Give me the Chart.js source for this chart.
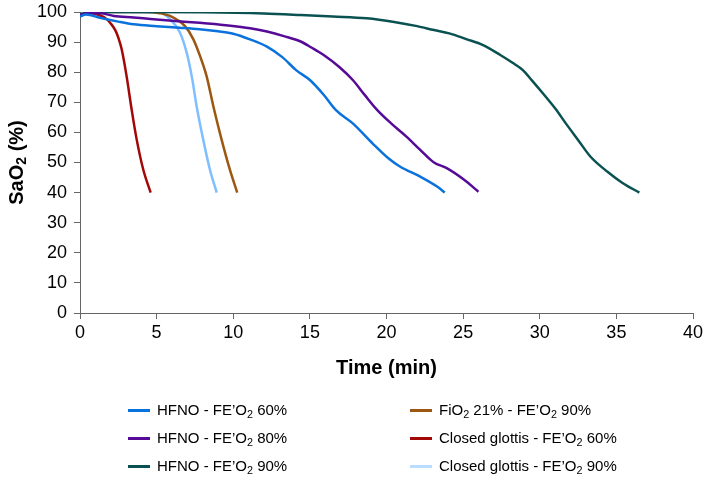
<!DOCTYPE html>
<html>
<head>
<meta charset="utf-8">
<script src="https://cdn.jsdelivr.net/npm/chart.js@4/dist/chart.umd.min.js"></script>
<style>
  html, body { margin: 0; padding: 0; background: #fff; }
  #wrap { position: relative; width: 706px; height: 490px; font-family: "Liberation Sans", Arial, sans-serif; }
  #c { position: absolute; left: 0; top: 0; }
  .leg { position: absolute; font-size: 15px; color: #000; white-space: nowrap; line-height: 20px; }
  .leg .sw { display: inline-block; width: 22px; height: 3px; vertical-align: middle; margin-right: 7px; position: relative; top: -1px; }
  .leg sub { font-size: 0.72em; vertical-align: -0.3em; line-height: 0; }
</style>
</head>
<body>
<div id="wrap">
  <canvas id="c" width="706" height="490"></canvas>
  <div id="legend"></div>
</div>
<script>
// ---- data ----
const xTicks = [0, 5, 10, 15, 20, 25, 30, 35, 40];
const yTicks = [0, 10, 20, 30, 40, 50, 60, 70, 80, 90, 100];

const hfno60Time = [0, 0.4, 1.3, 2.5, 3.5, 5, 6.5, 7.8, 9, 10, 11.1, 12.2, 13.2, 14.1, 15, 15.9, 16.7, 17.8, 19.1, 20.1, 20.9, 22.2, 23.3, 23.8];
const hfno60Sat  = [98.5, 99.2, 98.1, 96.8, 95.9, 95.3, 94.8, 94.3, 93.6, 92.8, 90.9, 88.5, 85, 80.7, 77.4, 72.5, 67.4, 63, 56.3, 51.5, 48.6, 45.3, 42, 40];

const hfno80Time = [0, 0.5, 1.3, 2.2, 3.5, 4.6, 6, 7.8, 9.5, 11.1, 12.2, 13.3, 14.4, 15.1, 15.9, 16.9, 17.8, 18.6, 19.4, 20.3, 21.3, 22.2, 23.1, 23.9, 25, 26];
const hfno80Sat  = [99, 99.6, 99.6, 98.7, 98.2, 97.7, 97.1, 96.4, 95.6, 94.6, 93.5, 92, 90.2, 88.2, 85.7, 81.8, 77.4, 72.3, 67.4, 63, 58.6, 54.2, 50, 48.2, 44.5, 40.3];

const hfno90Time = [0, 0.5, 1.5, 4, 8, 12, 14.4, 16.5, 18.7, 20.5, 22, 23.1, 24.1, 25.2, 26.3, 27.4, 28.2, 28.9, 29.5, 30.2, 31, 31.7, 32.5, 33.3, 34.4, 35.4, 36.5];
const hfno90Sat  = [99.3, 99.8, 100, 100, 99.9, 99.5, 99, 98.5, 97.9, 96.7, 95.3, 94, 92.9, 91, 89, 85.8, 83.2, 80.7, 77.2, 73, 68, 63, 57.5, 52, 47, 43.2, 40];

const fio21Time = [0, 0.4, 1.1, 3, 4.35, 5.2, 5.87, 6.85, 7.39, 7.83, 8.26, 8.7, 9.24, 9.78, 10.26];
const fio21Sat  = [98.8, 99.6, 100, 100, 100, 99.6, 98.7, 95.3, 91, 85.4, 78.7, 68.7, 57.6, 47.6, 40];

const cg60Time = [0, 0.3, 0.7, 1.2, 1.7, 2.0, 2.3, 2.5, 2.72, 3.04, 3.37, 3.7, 4.13, 4.61];
const cg60Sat  = [98.5, 99.3, 99.7, 99.1, 97.8, 96.2, 94, 91.5, 87.6, 78.7, 67.6, 57.6, 47.6, 40];

const cg90Time = [0, 0.4, 1.1, 3, 5.2, 5.87, 6.52, 6.96, 7.29, 7.61, 8.04, 8.48, 8.92];
const cg90Sat  = [98.8, 99.6, 100, 100, 99.8, 97.6, 93.2, 86.5, 78.7, 68.7, 57.6, 47.6, 40];

const seriesNames = ["HFNO - FE'O2 60%", "HFNO - FE'O2 80%", "HFNO - FE'O2 90%", "FiO2 21% - FE'O2 90%", "Closed glottis - FE'O2 60%", "Closed glottis - FE'O2 90%"];
const seriesLegendHtml = ["HFNO - FE’O<sub>2</sub> 60%", "HFNO - FE’O<sub>2</sub> 80%", "HFNO - FE’O<sub>2</sub> 90%", "FiO<sub>2</sub> 21% - FE’O<sub>2</sub> 90%", "Closed glottis - FE’O<sub>2</sub> 60%", "Closed glottis - FE’O<sub>2</sub> 90%"];
const seriesColors = ["#0a72dc", "#560a98", "#0a5252", "#9c5812", "#a30808", "#7fbfff"];
const seriesData = [[hfno60Time, hfno60Sat], [hfno80Time, hfno80Sat], [hfno90Time, hfno90Sat], [fio21Time, fio21Sat], [cg60Time, cg60Sat], [cg90Time, cg90Sat]];

// ---- build ----
const FONT = "'Liberation Sans', Arial, sans-serif";
const datasets = seriesData.map((s, i) => ({
  label: seriesNames[i],
  data: s[0].map((t, k) => ({ x: t, y: s[1][k] })),
  borderColor: seriesColors[i],
  backgroundColor: seriesColors[i],
  borderWidth: 2.5,
  pointRadius: 0,
  fill: false,
  cubicInterpolationMode: 'monotone'
}));

const yTitlePlugin = {
  id: 'yTitle',
  afterDraw(chart) {
    const ctx = chart.ctx;
    const ca = chart.chartArea;
    ctx.save();
    ctx.translate(17, (ca.top + ca.bottom) / 2);
    ctx.rotate(-Math.PI / 2);
    ctx.fillStyle = '#000';
    ctx.textBaseline = 'middle';
    const big = "bold 20px " + FONT, small = "bold 14px " + FONT;
    ctx.font = big; const w1 = ctx.measureText('SaO').width;
    ctx.font = small; const w2 = ctx.measureText('2').width;
    ctx.font = big; const w3 = ctx.measureText(' (%)').width;
    let x = -(w1 + w2 + w3) / 2;
    ctx.font = big; ctx.fillText('SaO', x, 0); x += w1;
    ctx.font = small; ctx.fillText('2', x, 5); x += w2;
    ctx.font = big; ctx.fillText(' (%)', x, 0);
    ctx.restore();
  }
};

new Chart(document.getElementById('c'), {
  type: 'line',
  data: { datasets },
  plugins: [yTitlePlugin],
  options: {
    responsive: false,
    animation: false,
    layout: { padding: { top: 12, right: 13, left: 0, bottom: 100 } },
    plugins: { legend: { display: false }, tooltip: { enabled: false } },
    scales: {
      x: {
        type: 'linear', min: 0, max: 40,
        afterBuildTicks: (s) => { s.ticks = xTicks.map(v => ({ value: v })); },
        afterFit: (s) => { s.height = 77; s.paddingLeft = 0; s.paddingRight = 0; },
        ticks: { color: '#000', font: { size: 18, family: FONT }, padding: 3, maxRotation: 0 },
        grid: { display: true, drawOnChartArea: false, drawTicks: true, tickLength: 6, color: '#666' },
        border: { color: '#666', width: 1 },
        title: { display: true, text: 'Time (min)', color: '#000', font: { size: 20, weight: 'bold', family: FONT }, padding: { top: 4, bottom: 10 } }
      },
      y: {
        type: 'linear', min: 0, max: 100,
        afterBuildTicks: (s) => { s.ticks = yTicks.map(v => ({ value: v })); },
        afterFit: (s) => { s.width = 80; s.paddingTop = 0; s.paddingBottom = 0; },
        ticks: { color: '#000', font: { size: 18, family: FONT }, padding: 7 },
        grid: { display: true, drawOnChartArea: false, drawTicks: true, tickLength: 6, color: '#666' },
        border: { color: '#666', width: 1 }
      }
    }
  }
});

// ---- legend (two columns, column-major) ----
const legend = document.getElementById('legend');
const colX = [128, 410];
const rowY = [400, 428, 456];
seriesLegendHtml.forEach((html, i) => {
  const d = document.createElement('div');
  d.className = 'leg';
  d.style.left = colX[Math.floor(i / 3)] + 'px';
  d.style.top = rowY[i % 3] + 'px';
  d.innerHTML = '<span class="sw" style="background:' + seriesColors[i] + (i === 5 ? ';opacity:0.55' : '') + '"></span>' + html;
  legend.appendChild(d);
});
</script>
</body>
</html>
